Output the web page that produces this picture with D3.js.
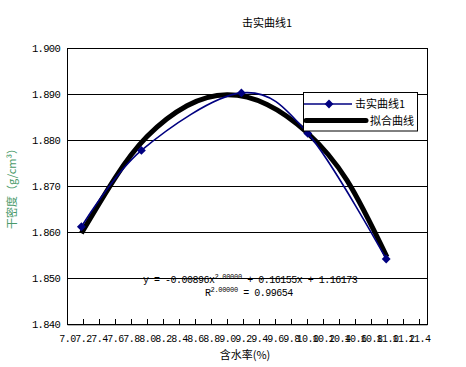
<!DOCTYPE html>
<html><head><meta charset="utf-8">
<script src="https://cdn.jsdelivr.net/npm/d3@7"></script>
<style>
body{margin:0;background:#fff;}
text{font-family:"Liberation Mono","DejaVu Sans Mono",monospace;}
.cjk{font-family:"Noto Sans CJK SC",sans-serif;}
</style></head>
<body><svg id="c" width="466" height="367"></svg>
<script>
// data
const moisture = [7.18, 7.93, 9.18, 10.01, 10.99];
const density  = [1.8612, 1.8778, 1.8903, 1.8815, 1.8542];
const fitX = [7.18, 7.6, 8.0, 8.5, 9.0, 9.5, 10.0, 10.5, 11.0];
const fitY = [1.8598, 1.8718, 1.8808, 1.8875, 1.8899, 1.8878, 1.8817, 1.8713, 1.8546];
const xTicks = [7.0,7.2,7.4,7.6,7.8,8.0,8.2,8.4,8.6,8.8,9.0,9.2,9.4,9.6,9.8,10.0,10.2,10.4,10.6,10.8,11.0,11.2,11.4];
const yTicks = [1.840,1.850,1.860,1.870,1.880,1.890,1.900];
const seriesNames = ["击实曲线1", "拟合曲线"];
const chartTitle = "击实曲线1";
const xTitle = "含水率(%)";
const yTitle = "干密度（g/cm³）";

const svg = d3.select("#c");
svg.append("rect").attr("width",466).attr("height",367).attr("fill","#fff");
const x = d3.scaleLinear().domain([7.0, 11.5]).range([67, 427]);
const y = d3.scaleLinear().domain([1.840, 1.900]).range([324.3, 48.3]);

// gridlines
svg.append("g").selectAll("line").data(yTicks).join("line")
  .attr("x1",x(7.0)).attr("x2",x(11.5)).attr("y1",d=>y(d)).attr("y2",d=>y(d))
  .attr("stroke","#000").attr("stroke-width",1).attr("shape-rendering","crispEdges");
// plot border
svg.append("rect").attr("x",x(7.0)).attr("y",y(1.900)).attr("width",x(11.5)-x(7.0)).attr("height",y(1.840)-y(1.900))
  .attr("fill","none").attr("stroke","#000").attr("shape-rendering","crispEdges");

// x axis
const xa = svg.append("g").attr("transform",`translate(0,${y(1.840)})`)
  .call(d3.axisBottom(x).tickValues(xTicks).tickSizeInner(-5).tickSizeOuter(0).tickPadding(11).tickFormat(d3.format(".1f")));
xa.select(".domain").attr("stroke","#000");
xa.selectAll("line").attr("stroke","#000").attr("shape-rendering","crispEdges");
xa.selectAll("text").attr("font-size",10).attr("letter-spacing","-0.5px").attr("fill","#000")
  .attr("font-family","Liberation Mono, monospace");

// y axis
const ya = svg.append("g").attr("transform",`translate(${x(7.0)},0)`)
  .call(d3.axisLeft(y).tickValues(yTicks).tickSize(0).tickPadding(7).tickFormat(d3.format(".3f")));
ya.select(".domain").attr("stroke","#000");
ya.selectAll("text").attr("font-size",10.5).attr("letter-spacing","-0.7px").attr("fill","#000")
  .attr("font-family","Liberation Mono, monospace");

// fit curve
const fitData = fitX.map((v,i)=>[v,fitY[i]]);
svg.append("path").datum(fitData)
  .attr("d", d3.line().x(d=>x(d[0])).y(d=>y(d[1])).curve(d3.curveNatural))
  .attr("fill","none").attr("stroke","#000").attr("stroke-width",5);

// measured curve
const data = moisture.map((v,i)=>[v,density[i]]);
svg.append("path").datum(data)
  .attr("d", d3.line().x(d=>x(d[0])).y(d=>y(d[1])).curve(d3.curveCardinal.tension(0)))
  .attr("fill","none").attr("stroke","#000080").attr("stroke-width",1.6);
const diamond = d3.symbol().type(d3.symbolDiamond2).size(50);
svg.append("g").selectAll("path").data(data).join("path")
  .attr("d", diamond).attr("transform",d=>`translate(${x(d[0])},${y(d[1])})`).attr("fill","#000080");

// equation
const eq = svg.append("text").attr("x",143).attr("y",283).attr("font-size",10).attr("letter-spacing","-0.5px").attr("fill","#000");
eq.append("tspan").text("y = -0.00896x");
eq.append("tspan").attr("dy",-4).attr("font-size",7).attr("letter-spacing","-0.3px").text("2.00000");
eq.append("tspan").attr("dy",4).text(" + 0.16155x + 1.16173");
const r2 = svg.append("text").attr("x",205).attr("y",296).attr("font-size",10).attr("letter-spacing","-0.5px").attr("fill","#000");
r2.append("tspan").text("R");
r2.append("tspan").attr("dy",-4).attr("font-size",7).attr("letter-spacing","-0.3px").text("2.00000");
r2.append("tspan").attr("dy",4).text(" = 0.99654");

// legend
const lg = svg.append("g");
lg.append("rect").attr("x",303.5).attr("y",92.5).attr("width",114).attr("height",38.5)
  .attr("fill","#fff").attr("stroke","#000");
lg.append("line").attr("x1",304).attr("x2",352).attr("y1",104).attr("y2",104).attr("stroke","#000080").attr("stroke-width",1.6);
lg.append("path").attr("d",diamond).attr("transform","translate(329,104)").attr("fill","#000080");
lg.append("text").attr("class","cjk").attr("x",355).attr("y",108).attr("font-size",11).text(seriesNames[0]);
lg.append("line").attr("x1",306).attr("x2",366).attr("y1",120.5).attr("y2",120.5).attr("stroke","#000").attr("stroke-width",5).attr("stroke-linecap","round");
lg.append("text").attr("class","cjk").attr("x",370).attr("y",125).attr("font-size",11).text(seriesNames[1]);

// titles
svg.append("text").attr("class","cjk").attr("x",267).attr("y",27).attr("text-anchor","middle").attr("font-size",11).text(chartTitle);
svg.append("text").attr("class","cjk").attr("x",245).attr("y",359).attr("text-anchor","middle").attr("font-size",11).text(xTitle);
svg.append("text").attr("class","cjk").attr("transform","translate(16,186) rotate(-90)").attr("text-anchor","middle")
  .attr("font-size",11).attr("fill","#4a9a6a").text(yTitle);
</script></body></html>
